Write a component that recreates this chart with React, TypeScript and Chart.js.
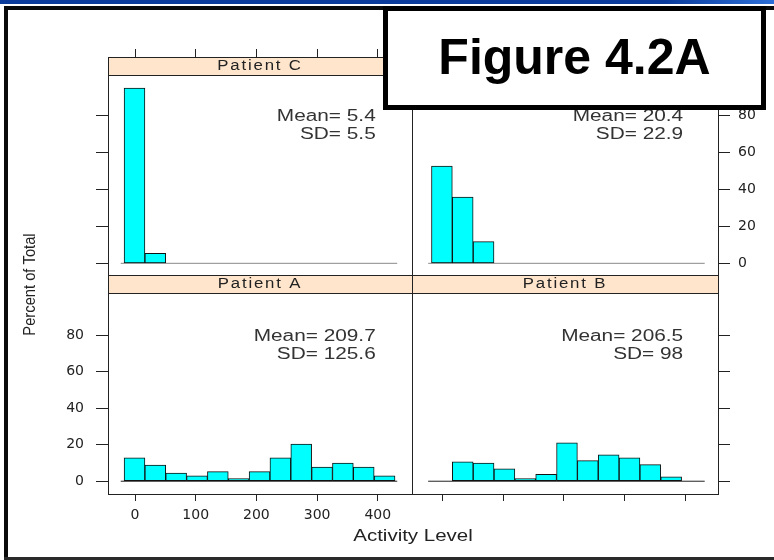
import React, { useEffect, useRef } from 'react';
import { Chart, registerables } from 'chart.js';

Chart.register(...registerables);

// ---------------- data ----------------
const binEdges = [-18, 16.3, 50.6, 85, 119.3, 153.6, 188, 222.3, 256.6, 291, 325.3, 359.6, 394, 428.3];
const percentA = [12.8, 8.9, 4.4, 2.9, 5.3, 1.5, 5.3, 12.8, 20.4, 7.7, 9.9, 7.7, 2.9];
const percentB = [0, 10.6, 9.9, 6.8, 1.5, 3.8, 21.0, 11.3, 14.4, 12.8, 9.1, 2.4, 0];
const percentC = [94.6, 5.4, 0, 0, 0, 0, 0, 0, 0, 0, 0, 0, 0];
const percentD = [52.5, 35.8, 11.7, 0, 0, 0, 0, 0, 0, 0, 0, 0, 0];
const patientNames = ['Patient A', 'Patient B', 'Patient C', 'Patient D'];
const meanValues = [209.7, 206.5, 5.4, 20.4];
const sdValues = [125.6, 98, 5.5, 22.9];
const xTickValues = [0, 100, 200, 300, 400];
const yTickValues = [0, 20, 40, 60, 80];
const baselineRange = [-23.5, 432];
const xAxisTitle = 'Activity Level';
const yAxisTitle = 'Percent of Total';
const figureTitle = 'Figure 4.2A';

// ---------------- layout ----------------
const W = 774;
const H = 560;
const STRIP_H = 18;
const STAT_X = 396.5;
const MEAN_Y = 79.3;
const SD_Y = 69.4;

type Area = { left: number; top: number; right: number; bottom: number };
type PanelSpec = {
  idx: number;
  values: number[];
  area: Area;
  xRange: [number, number];
  yRange: [number, number];
  xPos: 'top' | 'bottom';
  yPos: 'left' | 'right';
  xLabels: boolean;
  yLabels: boolean;
  baseColor: string;
  titles: boolean;
};

const panels: PanelSpec[] = [
  { idx: 2, values: percentC, area: { left: 108, top: 57, right: 412, bottom: 275 }, xRange: [-44.5, 456.3], yRange: [-6.3, 111.3], xPos: 'top', yPos: 'left', xLabels: false, yLabels: false, baseColor: '#8a8a8a', titles: false },
  { idx: 3, values: percentD, area: { left: 412, top: 57, right: 718, bottom: 275 }, xRange: [-50.1, 453.9], yRange: [-6.3, 111.3], xPos: 'top', yPos: 'right', xLabels: false, yLabels: true, baseColor: '#8a8a8a', titles: false },
  { idx: 0, values: percentA, area: { left: 108, top: 275, right: 412, bottom: 494 }, xRange: [-44.5, 456.3], yRange: [-7.0, 113.0], xPos: 'bottom', yPos: 'left', xLabels: true, yLabels: true, baseColor: '#222', titles: true },
  { idx: 1, values: percentB, area: { left: 412, top: 275, right: 718, bottom: 494 }, xRange: [-50.1, 453.9], yRange: [-7.0, 113.0], xPos: 'bottom', yPos: 'right', xLabels: false, yLabels: false, baseColor: '#222', titles: false },
];

function drawText(
  ctx: CanvasRenderingContext2D,
  text: string,
  x: number,
  y: number,
  o: { font: string; color: string; align: CanvasTextAlign; sx: number; spacing?: number; rotate?: number }
) {
  ctx.save();
  ctx.font = o.font;
  ctx.fillStyle = o.color;
  ctx.textAlign = o.align;
  ctx.textBaseline = 'middle';
  if (o.spacing && 'letterSpacing' in ctx) (ctx as any).letterSpacing = o.spacing + 'px';
  ctx.translate(x, y);
  if (o.rotate) ctx.rotate(o.rotate);
  ctx.scale(o.sx, 1);
  ctx.fillText(text, 0, 0);
  ctx.restore();
}

function panelPlugin(p: PanelSpec) {
  return {
    id: 'panel' + p.idx,
    beforeDatasetsDraw(chart: any) {
      const { ctx, chartArea: a } = chart;
      ctx.save();
      ctx.fillStyle = '#FFE5CC';
      ctx.fillRect(a.left, a.top, a.right - a.left, STRIP_H);
      ctx.restore();
    },
    afterDraw(chart: any) {
      const { ctx, chartArea: a, scales } = chart;
      ctx.save();
      ctx.strokeStyle = '#222';
      ctx.lineWidth = 1;
      ctx.beginPath();
      ctx.moveTo(a.left, a.top + STRIP_H + 0.5);
      ctx.lineTo(a.right, a.top + STRIP_H + 0.5);
      ctx.stroke();
      ctx.strokeRect(a.left + 0.5, a.top + 0.5, a.right - a.left, a.bottom - a.top);
      ctx.restore();

      drawText(ctx, patientNames[p.idx], (a.left + a.right) / 2, a.top + STRIP_H / 2 + 0.5, {
        font: '14px "Liberation Sans", Arial, sans-serif', color: '#222', align: 'center', sx: 1.2, spacing: 1.5,
      });
      const sx = scales.x.getPixelForValue(STAT_X);
      const statFont = '16px "Liberation Sans", Arial, sans-serif';
      drawText(ctx, 'Mean= ' + String(meanValues[p.idx]), sx, scales.y.getPixelForValue(MEAN_Y), {
        font: statFont, color: '#333', align: 'right', sx: 1.3,
      });
      drawText(ctx, 'SD= ' + String(sdValues[p.idx]), sx, scales.y.getPixelForValue(SD_Y), {
        font: statFont, color: '#333', align: 'right', sx: 1.3,
      });

      if (p.titles) {
        drawText(ctx, xAxisTitle, 413, 537, {
          font: '16px "Liberation Sans", Arial, sans-serif', color: '#222', align: 'center', sx: 1.28,
        });
        drawText(ctx, yAxisTitle, 31, 284.5, {
          font: '16px "Liberation Sans", Arial, sans-serif', color: '#222', align: 'center', sx: 0.92, rotate: -Math.PI / 2,
        });
      }
    },
  };
}

function buildConfig(p: PanelSpec): any {
  const centers = binEdges.slice(0, -1).map((e, i) => (e + binEdges[i + 1]) / 2);
  const bars = p.values.map((v, i) => ({ x: centers[i], y: v })).filter((d) => d.y > 0);
  const yW = 50;
  const xH = p.xPos === 'bottom' ? 40 : 20;
  const padding = {
    left: p.area.left - (p.yPos === 'left' ? yW : 0),
    right: W - p.area.right - (p.yPos === 'right' ? yW : 0),
    top: p.area.top - (p.xPos === 'top' ? xH : 0),
    bottom: H - p.area.bottom - (p.xPos === 'bottom' ? xH : 0),
  };
  const tickFont = { family: '"DejaVu Sans", sans-serif', size: 14 };
  return {
    type: 'bar',
    data: {
      datasets: [
        {
          type: 'bar',
          data: bars,
          backgroundColor: '#00FFFF',
          borderColor: '#111',
          borderWidth: 1,
          borderSkipped: false,
          barPercentage: 1,
          categoryPercentage: 1,
          order: 1,
        },
        {
          type: 'line',
          data: baselineRange.map((x) => ({ x, y: 0 })),
          borderColor: p.baseColor,
          borderWidth: 1,
          pointRadius: 0,
          fill: false,
          order: 2,
        },
      ],
    },
    options: {
      responsive: false,
      animation: false,
      devicePixelRatio: 1,
      events: [],
      layout: { padding },
      plugins: { legend: { display: false }, tooltip: { enabled: false } },
      scales: {
        x: {
          type: 'linear',
          position: p.xPos,
          min: p.xRange[0],
          max: p.xRange[1],
          offset: false,
          afterBuildTicks: (s: any) => {
            s.ticks = xTickValues.map((v) => ({ value: v }));
          },
          afterFit: (s: any) => {
            s.height = xH;
          },
          grid: { offset: false, drawOnChartArea: false, drawTicks: true, tickLength: p.xPos === 'bottom' ? 7 : 8, color: '#222', lineWidth: 1 },
          border: { display: false },
          ticks: {
            autoSkip: false,
            maxRotation: 0,
            minRotation: 0,
            padding: 6,
            color: '#222',
            font: tickFont,
            callback: (v: any) => (p.xLabels ? String(v) : ''),
          },
        },
        y: {
          type: 'linear',
          position: p.yPos,
          min: p.yRange[0],
          max: p.yRange[1],
          afterBuildTicks: (s: any) => {
            s.ticks = yTickValues.map((v) => ({ value: v }));
          },
          afterFit: (s: any) => {
            s.width = yW;
          },
          grid: { drawOnChartArea: false, drawTicks: true, tickLength: 12, color: '#222', lineWidth: 1 },
          border: { display: false },
          ticks: {
            padding: p.yPos === 'left' ? 12 : 8,
            color: '#222',
            font: tickFont,
            callback: (v: any) => (p.yLabels ? String(v) : ''),
          },
        },
      },
    },
    plugins: [panelPlugin(p)],
  };
}

function PanelChart({ spec }: { spec: PanelSpec }) {
  const ref = useRef<HTMLCanvasElement>(null);
  useEffect(() => {
    const chart = new Chart(ref.current as HTMLCanvasElement, buildConfig(spec));
    return () => chart.destroy();
  }, [spec]);
  return (
    <canvas
      ref={ref}
      width={W}
      height={H}
      style={{ position: 'absolute', left: 0, top: 0, width: W, height: H }}
    />
  );
}

export default function App() {
  return (
    <div style={{ position: 'fixed', left: 0, top: 0, width: W, height: H, background: '#fff', overflow: 'hidden' }}>
      <div style={{ position: 'absolute', left: 0, top: 0, width: W, height: 4, background: 'linear-gradient(90deg, #0b3c9c 0%, #0b3c9c 86%, #2c6fd8 100%)' }} />
      <div style={{ position: 'absolute', left: 4, top: 6, width: W - 4, height: 4, background: '#0a0a0a' }} />
      <div style={{ position: 'absolute', left: 4, top: 6, width: 4, height: H - 6, background: '#0a0a0a' }} />
      <div style={{ position: 'absolute', left: 4, top: 557, width: W - 4, height: 3, background: '#2a2a2a' }} />
      {panels.map((p) => (
        <PanelChart key={p.idx} spec={p} />
      ))}
      <div
        style={{
          position: 'absolute',
          left: 383,
          top: 6,
          width: 383,
          height: 104,
          boxSizing: 'border-box',
          border: '5px solid #000',
          background: '#fff',
        }}
      >
        <div
          style={{
            position: 'absolute',
            left: 0,
            right: 0,
            top: 21,
            textAlign: 'center',
            fontFamily: '"Liberation Sans", Arial, sans-serif',
            fontWeight: 'bold',
            fontSize: 50,
            lineHeight: '50px',
            color: '#000',
            whiteSpace: 'nowrap',
          }}
        >
          {figureTitle}
        </div>
      </div>
    </div>
  );
}
